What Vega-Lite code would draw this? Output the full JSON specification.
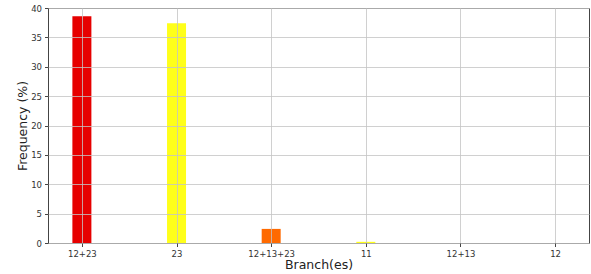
{
  "$schema": "https://vega.github.io/schema/vega-lite/v6.json",
  "width": 541,
  "height": 235,
  "autosize": "none",
  "padding": {"left": 48, "top": 8, "right": 2, "bottom": 31},
  "background": "white",
  "config": {
    "view": {"stroke": "#444", "strokeWidth": 1},
    "font": "DejaVu Sans"
  },
  "data": {
    "values": [
      {"branch": "12+23", "freq": 38.6, "color": "#e60000"},
      {"branch": "23", "freq": 37.4, "color": "#ffff1a"},
      {"branch": "12+13+23", "freq": 2.4, "color": "#ff6a00"},
      {"branch": "11", "freq": 0.2, "color": "#ffff1a"},
      {"branch": "12+13", "freq": 0, "color": "#ffffff"},
      {"branch": "12", "freq": 0, "color": "#ffffff"}
    ]
  },
  "mark": {"type": "bar", "size": 19},
  "encoding": {
    "x": {
      "field": "branch",
      "type": "nominal",
      "sort": null,
      "scale": {"type": "point", "padding": 0.358},
      "axis": {
        "title": "Branch(es)",
        "titleFontSize": 12.5,
        "titleFontWeight": "normal",
        "titleColor": "#222",
        "titlePadding": 0,
        "labelAngle": 0,
        "labelFontSize": 8.5,
        "labelColor": "#333",
        "labelPadding": 3,
        "tickColor": "#444",
        "tickSize": 3.5,
        "domain": false,
        "grid": true,
        "gridColor": "#c4c4c4",
        "gridWidth": 0.8,
        "zindex": 1
      }
    },
    "y": {
      "field": "freq",
      "type": "quantitative",
      "scale": {"domain": [0, 40], "nice": false},
      "axis": {
        "title": "Frequency (%)",
        "titleFontSize": 12.5,
        "titleFontWeight": "normal",
        "titleColor": "#222",
        "titlePadding": 1,
        "values": [0, 5, 10, 15, 20, 25, 30, 35, 40],
        "labelFontSize": 8.5,
        "labelColor": "#333",
        "labelPadding": 3,
        "tickColor": "#444",
        "tickSize": 3.5,
        "domain": false,
        "grid": true,
        "gridColor": "#c4c4c4",
        "gridWidth": 0.8,
        "zindex": 1
      }
    },
    "color": {"field": "color", "type": "nominal", "scale": null, "legend": null}
  }
}
